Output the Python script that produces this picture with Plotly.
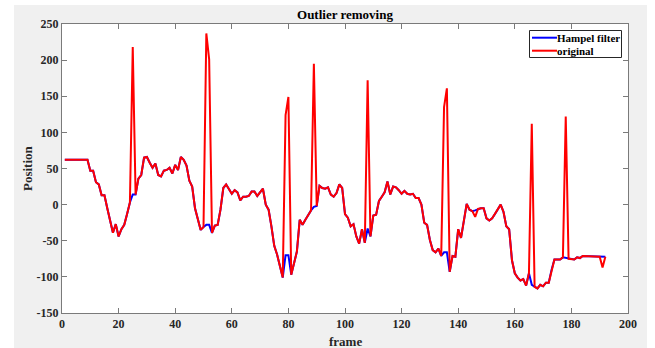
import plotly.graph_objects as go

# Frame numbers and tracked position, raw and after the Hampel filter
frames = list(range(1, 193))

original = [
    62, 62, 62, 62, 62, 62, 62, 62, 62, 47,
    47, 31, 28, 13, 13, -5, -22, -39, -27, -44,
    -34, -28, -13, 3, 218, 14, 36, 41, 65, 66,
    58, 51, 57, 41, 39, 47, 48, 51, 43, 55,
    48, 66, 62, 54, 33, 25, -5, -21, -35, -31,
    237, 201, -39, -29, -28, -7, 23, 28, 22, 15,
    20, 17, 6, 11, 11, 12, 18, 18, 12, 17,
    22, 0, -7, -30, -57, -69, -85, -101, 124, 149,
    -97, -80, -65, -21, -28, -21, -14, -8, 195, -2,
    26, 23, 22, 24, 14, 11, 16, 28, 23, -13,
    -18, -30, -27, -44, -54, -34, -53, 172, -44, -15,
    -14, 5, 11, 17, 32, 14, 25, 24, 20, 15,
    19, 15, 14, 15, 9, 9, 0, -25, -28, -49,
    -63, -66, -61, -71, 135, 161, -93, -71, -72, -34,
    -46, -23, 1, -7, -9, -17, -6, -5, -5, -19,
    -22, -19, -13, -7, 0, -10, -30, -34, -77, -95,
    -101, -105, -103, -112, -95, 112, -114, -116, -111, -113,
    -108, -108, -90, -76, -76, -76, -73, 122, -75, -75,
    -76, -73, -74, -71, -71, -71, -71, -71, -71, -72,
    -87, -72,
]

hampel = [
    62, 62, 62, 62, 62, 62, 62, 62, 62, 47,
    47, 31, 28, 13, 13, -5, -22, -39, -27, -44,
    -34, -28, -13, 3, 14, 14, 36, 41, 65, 66,
    58, 51, 57, 41, 39, 47, 48, 51, 43, 55,
    48, 66, 62, 54, 33, 25, -5, -21, -35, -31,
    -28, -28, -39, -29, -28, -7, 23, 28, 22, 15,
    20, 17, 6, 11, 11, 12, 18, 18, 12, 17,
    22, 0, -7, -30, -57, -69, -85, -101, -70, -70,
    -97, -80, -65, -21, -28, -21, -14, -8, -3, -2,
    26, 23, 22, 24, 14, 11, 16, 28, 23, -13,
    -18, -30, -27, -44, -54, -34, -53, -33, -44, -15,
    -14, 5, 11, 17, 32, 14, 25, 24, 20, 15,
    19, 15, 14, 15, 9, 9, 0, -25, -28, -49,
    -63, -66, -61, -71, -66, -66, -93, -71, -72, -34,
    -46, -23, 1, -7, -9, -8, -6, -5, -5, -19,
    -22, -19, -13, -7, 0, -10, -30, -34, -77, -95,
    -101, -105, -103, -112, -95, -111, -114, -116, -111, -113,
    -108, -108, -90, -76, -76, -76, -73, -74, -75, -75,
    -76, -73, -74, -71, -71, -71, -71, -71, -71, -72,
    -72, -72,
]

series_names = ["Hampel filter", "original"]
series_colors = ["#0000ff", "#ff0000"]

x_ticks = [0, 20, 40, 60, 80, 100, 120, 140, 160, 180, 200]
x_tick_labels = ["0", "20", "40", "60", "80", "100", "120", "140", "160", "180", "200"]
y_ticks = [-150, -100, -50, 0, 50, 100, 150, 200, 250]
y_tick_labels = ["-150", "-100", "-50", "0", "50", "100", "150", "200", "250"]

serif = "Liberation Serif"
axis_col = "#7a7a7a"

# plot area in pixels: left 62, right 628, top 24, bottom 313
W, H = 655, 348
L, R, T, B = 62, 628, 24, 313


def px(xp):
    return (xp - L) / (R - L)


def py(yp):
    return (B - yp) / (B - T)


fig = go.Figure()
for name, col, vals in zip(series_names, series_colors, [hampel, original]):
    fig.add_trace(go.Scatter(x=frames, y=vals, mode="lines", name=name,
                             line=dict(color=col, width=2), showlegend=False))

axis_common = dict(
    showline=True, linecolor=axis_col, linewidth=1, mirror="allticks",
    ticks="inside", ticklen=5, tickcolor=axis_col, tickwidth=1,
    showgrid=False, zeroline=False,
    tickfont=dict(family=serif, size=12, color="#262626", weight="bold"),
)

fig.update_xaxes(range=[0, 200], tickmode="array", tickvals=x_ticks,
                 ticktext=x_tick_labels, **axis_common)
fig.update_yaxes(range=[-150, 250], tickmode="array", tickvals=y_ticks,
                 ticktext=y_tick_labels, **axis_common)

shapes = [
    # grey figure panel behind the axes
    dict(type="rect", xref="paper", yref="paper",
         x0=px(14), x1=px(647), y0=py(348), y1=py(5),
         fillcolor="#f0f0f0", line=dict(width=0), layer="below"),
    # white axes area
    dict(type="rect", xref="paper", yref="paper", x0=0, x1=1, y0=0, y1=1,
         fillcolor="white", line=dict(width=0), layer="below"),
    # legend box
    dict(type="rect", xref="paper", yref="paper",
         x0=px(529.5), x1=px(621.5), y0=py(57.5), y1=py(30.5),
         fillcolor="white", line=dict(color="#262626", width=1), layer="above"),
]

annotations = [
    dict(text="frame", xref="paper", yref="paper", x=0.5, y=py(341),
         xanchor="center", yanchor="middle", showarrow=False,
         font=dict(family=serif, size=13, color="#262626", weight="bold")),
    dict(text="Position", xref="paper", yref="paper", x=px(27), y=py(168),
         xanchor="center", yanchor="middle", textangle=-90, showarrow=False,
         font=dict(family=serif, size=13, color="#262626", weight="bold")),
]

# legend entries: short line sample followed by the series name
for i, (name, col) in enumerate(zip(series_names, series_colors)):
    yy = 37.7 + 13 * i
    shapes.append(dict(type="line", xref="paper", yref="paper",
                       x0=px(532), x1=px(557), y0=py(yy), y1=py(yy),
                       line=dict(color=col, width=2), layer="above"))
    annotations.append(dict(text=name, xref="paper", yref="paper",
                            x=px(557), y=py(yy), xanchor="left", yanchor="middle",
                            showarrow=False, xshift=-2,
                            font=dict(family=serif, size=11, color="black",
                                      weight="bold")))

fig.update_layout(
    width=W, height=H,
    margin=dict(l=L, r=W - R, t=T, b=H - B),
    paper_bgcolor="white",
    plot_bgcolor="white",
    showlegend=False,
    title=dict(text="Outlier removing", x=0.5, xref="paper", xanchor="center",
               y=1 - 14 / H, yanchor="middle",
               font=dict(family=serif, size=13, color="black", weight="bold")),
    shapes=shapes,
    annotations=annotations,
)

fig.write_html("out.html")
